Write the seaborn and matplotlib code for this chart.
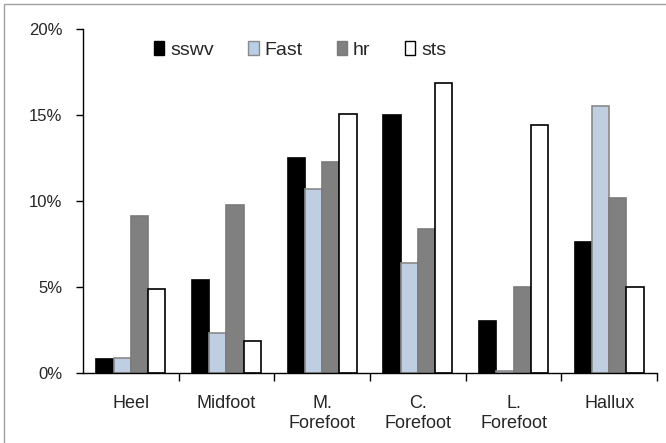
import pandas as pd
import seaborn as sns
import matplotlib.pyplot as plt
from matplotlib.patches import Rectangle
from matplotlib.ticker import PercentFormatter, FixedLocator

regioes = ['Heel', 'Midfoot', 'M.\nForefoot', 'C.\nForefoot', 'L.\nForefoot', 'Hallux']
sswv = [0.8, 5.4, 12.5, 15.0, 3.0, 7.6]
fast = [0.9, 2.3, 10.7, 6.4, 0.1, 15.5]
hr = [9.1, 9.75, 12.25, 8.4, 5.0, 10.2]
sts = [4.9, 1.85, 15.05, 16.85, 14.4, 5.0]
series = ['sswv', 'Fast', 'hr', 'sts']
cores = ['#000000', '#B9CDE5', '#808080', '#FFFFFF']
bordas = ['#000000', '#8A8A8A', '#7A7A7A', '#000000']

df = pd.DataFrame({'regiao': regioes, 'sswv': sswv, 'Fast': fast, 'hr': hr, 'sts': sts})
df = df.melt(id_vars='regiao', var_name='serie', value_name='valor')

sns.set_style('white')
plt.rcParams['font.family'] = ['Liberation Sans', 'DejaVu Sans']

fig = plt.figure(figsize=(6.66, 4.43), dpi=100)
ax = fig.add_axes([83 / 666, 70 / 443, 574 / 666, 344 / 443])
sns.barplot(data=df, x='regiao', y='valor', hue='serie', hue_order=series,
            palette=cores, width=0.72, ax=ax, legend=False)

for cont, borda in zip(ax.containers, bordas):
    for barra in cont:
        barra.set_edgecolor(borda)
        barra.set_linewidth(1.2)

ax.set_xlim(-0.5, 5.5)
ax.set_ylim(0, 20)
ax.set_yticks([0, 5, 10, 15, 20])
ax.yaxis.set_major_formatter(PercentFormatter(decimals=0))
ax.xaxis.set_minor_locator(FixedLocator([0.5, 1.5, 2.5, 3.5, 4.5, 5.5]))
ax.tick_params(axis='x', which='major', length=0, pad=16, labelsize=13)
ax.tick_params(axis='x', which='minor', length=6, width=1, direction='out', color='black', bottom=True)
ax.tick_params(axis='y', length=5, width=1, direction='out', color='black', left=True, labelsize=12, pad=10)
for rotulo in ax.get_xticklabels():
    rotulo.set_linespacing(1.25)
ax.set_xlabel('')
ax.set_ylabel('')
for lado in ['top', 'right']:
    ax.spines[lado].set_visible(False)
for lado in ['left', 'bottom']:
    ax.spines[lado].set_color('black')
    ax.spines[lado].set_linewidth(1)

handles = [Rectangle((0, 0), 1, 1, facecolor=c, edgecolor=b, linewidth=1) for c, b in zip(cores, bordas)]
ax.legend(handles, series, loc='center', bbox_to_anchor=(0.378, 0.94), ncol=4, frameon=False,
          fontsize=14, handlelength=0.55, handleheight=0.75, handletextpad=0.3, columnspacing=1.75)

fig.patches.append(Rectangle((4 / 666, -0.1), 1.2, (439 / 443) + 0.1, transform=fig.transFigure,
                             fill=False, edgecolor='#A0A0A0', linewidth=1))

plt.savefig('out.png', dpi=100)
